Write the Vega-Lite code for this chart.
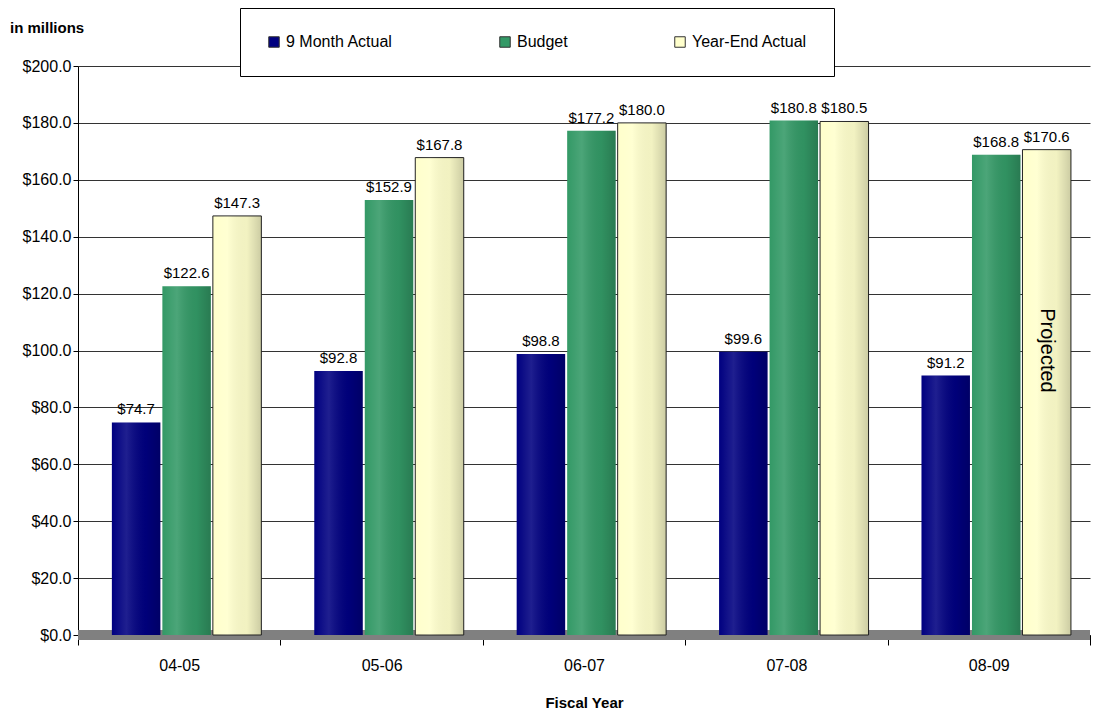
{
  "$schema": "https://vega.github.io/schema/vega-lite/v6.json",
  "autosize": "none",
  "width": 1012,
  "height": 569,
  "padding": {"left": 78, "top": 66, "right": 10, "bottom": 76},
  "background": "white",
  "config": {
    "font": "Liberation Sans, Arial",
    "view": {"stroke": null}
  },
  "title": {
    "text": "in millions",
    "anchor": "start",
    "frame": "group",
    "dx": -68,
    "offset": -28,
    "fontSize": 15,
    "fontWeight": "bold",
    "color": "#000"
  },
  "data": {
    "values": [
      {"year": "04-05", "series": "9 Month Actual", "value": 74.7},
      {"year": "04-05", "series": "Budget", "value": 122.6},
      {"year": "04-05", "series": "Year-End Actual", "value": 147.3},
      {"year": "05-06", "series": "9 Month Actual", "value": 92.8},
      {"year": "05-06", "series": "Budget", "value": 152.9},
      {"year": "05-06", "series": "Year-End Actual", "value": 167.8},
      {"year": "06-07", "series": "9 Month Actual", "value": 98.8},
      {"year": "06-07", "series": "Budget", "value": 177.2},
      {"year": "06-07", "series": "Year-End Actual", "value": 180.0},
      {"year": "07-08", "series": "9 Month Actual", "value": 99.6},
      {"year": "07-08", "series": "Budget", "value": 180.8},
      {"year": "07-08", "series": "Year-End Actual", "value": 180.5},
      {"year": "08-09", "series": "9 Month Actual", "value": 91.2},
      {"year": "08-09", "series": "Budget", "value": 168.8},
      {"year": "08-09", "series": "Year-End Actual", "value": 170.6}
    ]
  },
  "layer": [
    {
      "mark": {"type": "rect", "color": "#808080"},
      "encoding": {
        "y": {
          "datum": 1.8,
          "type": "quantitative",
          "scale": {"domain": [0, 200]},
          "axis": {
            "title": null,
            "grid": true,
            "values": [0, 20, 40, 60, 80, 100, 120, 140, 160, 180, 200],
            "format": "$,.1f",
            "labelFontSize": 16,
            "labelColor": "#000",
            "tickColor": "#000",
            "domainColor": "#000",
            "gridColor": "#333",
            "gridWidth": 1
          }
        },
        "y2": {"datum": -1.8}
      }
    },
    {
      "encoding": {
        "x": {
          "field": "year",
          "type": "nominal",
          "scale": {"paddingInner": 0, "paddingOuter": 0},
          "axis": {
            "title": "Fiscal Year",
            "titleFontSize": 15,
            "titleFontWeight": "bold",
            "titlePadding": 22,
            "labelAngle": 0,
            "labelFontSize": 16,
            "labelColor": "#000",
            "labelPadding": 12,
            "tickBand": "extent",
            "tickSize": 10,
            "tickColor": "#000",
            "domainColor": "#000",
            "titleColor": "#000"
          }
        },
        "xOffset": {
          "field": "series",
          "type": "nominal",
          "scale": {"paddingInner": 0.04, "paddingOuter": 0.524, "align": 0.64}
        },
        "y": {"field": "value", "type": "quantitative"}
      },
      "layer": [
        {
          "mark": {"type": "bar"},
          "encoding": {
            "color": {
              "field": "series",
              "type": "nominal",
              "scale": {
                "domain": ["9 Month Actual", "Budget", "Year-End Actual"],
                "range": ["#000080", "#339966", "#FFFFCC"]
              },
              "legend": {
                "title": null,
                "orient": "none",
                "legendX": 162,
                "legendY": -58,
                "direction": "horizontal",
                "columns": 3,
                "columnPadding": 104,
                "symbolType": "square",
                "symbolSize": 110,
                "symbolStrokeColor": "#333",
                "symbolStrokeWidth": 1,
                "labelFontSize": 16,
                "labelColor": "#000",
                "padding": 26,
                "strokeColor": "#000",
                "fillColor": "white"
              }
            },
            "stroke": {
              "condition": {"test": "datum.series === 'Year-End Actual'", "value": "#222"},
              "value": "transparent"
            }
          }
        },
        {
          "mark": {
            "type": "bar",
            "color": {
              "gradient": "linear",
              "x1": 0, "x2": 1, "y1": 0, "y2": 0,
              "stops": [
                {"offset": 0, "color": "rgba(255,255,255,0.0)"},
                {"offset": 0.3, "color": "rgba(255,255,255,0.12)"},
                {"offset": 0.7, "color": "rgba(0,0,0,0.05)"},
                {"offset": 1, "color": "rgba(0,0,0,0.2)"}
              ]
            }
          }
        },
        {
          "mark": {"type": "text", "dy": -13, "fontSize": 15, "color": "#000"},
          "encoding": {
            "text": {"field": "value", "type": "quantitative", "format": "$,.1f"}
          }
        },
        {
          "transform": [{"filter": "datum.year === '08-09' && datum.series === 'Year-End Actual'"}],
          "mark": {"type": "text", "angle": 90, "fontSize": 20, "color": "#000", "align": "center", "baseline": "middle"},
          "encoding": {
            "y": {"datum": 100},
            "text": {"value": "Projected"}
          }
        }
      ]
    }
  ]
}
